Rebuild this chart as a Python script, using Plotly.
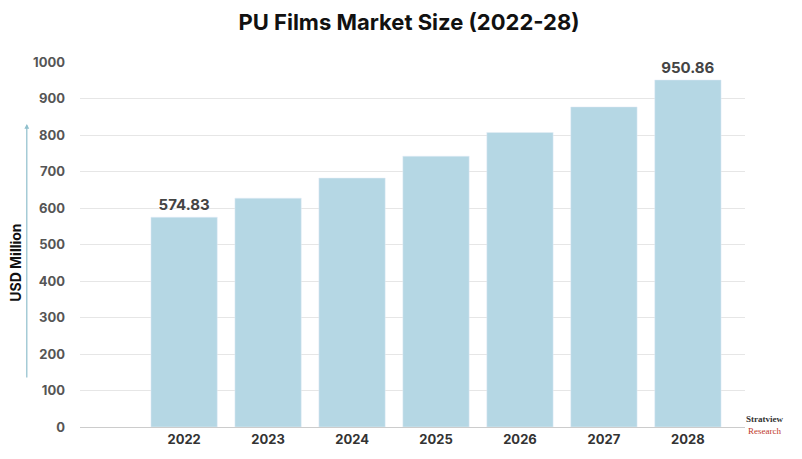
import plotly.graph_objects as go

years = [2022, 2023, 2024, 2025, 2026, 2027, 2028]
values = [574.83, 627, 682, 742, 807, 877, 950.86]
labels = ["<b>574.83</b>", "", "", "", "", "", "<b>950.86</b>"]
yticks = [0, 100, 200, 300, 400, 500, 600, 700, 800, 900, 1000]

fig = go.Figure(go.Bar(
    x=years, y=values, width=0.79, marker_color="#b5d7e4",
    text=labels, textposition="outside",
    textfont=dict(family="Inter", size=15, color="#444"),
    cliponaxis=False,
))
fig.update_layout(
    width=802, height=459, plot_bgcolor="white", paper_bgcolor="white",
    margin=dict(l=72, r=65, t=54, b=40),
    title=dict(text="<b>PU Films Market Size (2022-28)</b>", x=0.5, y=0.985, yanchor="top", xanchor="center",
               font=dict(family="Inter", size=22, color="#111")),
    showlegend=False,
    xaxis=dict(range=[2020.76, 2028.68], tickvals=years, ticktext=[f"<b>{y}</b>" for y in years],
               tickfont=dict(family="Inter", size=13, color="#333"), showgrid=False,
               showline=True, linecolor="#ccc", ticks=""),
    yaxis=dict(range=[0, 1000], tickvals=yticks, ticktext=[f"<b>{t}</b>" for t in yticks],
               tickfont=dict(family="Inter", size=13, color="#555"), gridcolor="#e6e6e6",
               zeroline=False, ticklabelstandoff=14),
)
fig.add_annotation(text="<b>USD Million</b>", xref="paper", yref="paper", x=-0.112, y=0.45,
                   textangle=-90, showarrow=False, font=dict(family="Inter", size=14, color="#111"))
fig.add_annotation(xref="paper", yref="paper", x=-0.08, y=0.83, ax=0, ay=255,
                   showarrow=True, arrowhead=2, arrowsize=0.8,
                   arrowwidth=1.2, arrowcolor="#8fbfcc", text="")
fig.add_annotation(text="<b>Stratview</b><br><span style='color:#c0392b'>Research</span>",
                   xref="paper", yref="paper", x=1.06, y=-0.03, showarrow=False,
                   font=dict(family="Liberation Serif", size=9, color="#333"))
fig.write_html("out.html")
